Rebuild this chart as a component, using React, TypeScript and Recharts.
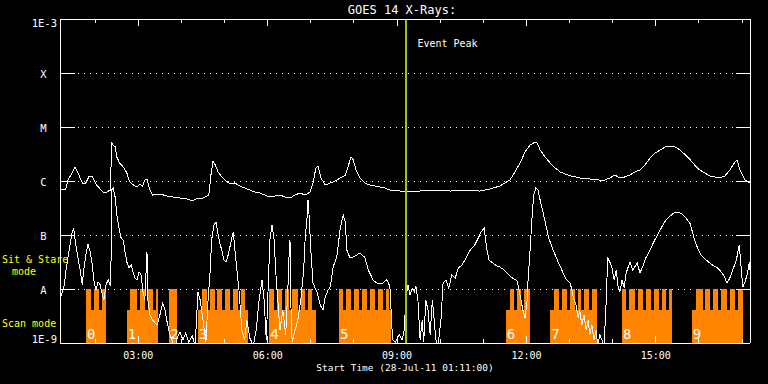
import {
  Area,
  CartesianGrid,
  ComposedChart,
  Line,
  ReferenceLine,
  Scatter,
  XAxis,
  YAxis,
} from 'recharts';

const FONT = '"DejaVu Sans Mono", monospace';
const WHITE = '#ffffff';
const ORANGE = '#ff8400';
const GREEN = '#9ec800';
const YELLOW = '#ffff00';

// time axis: minutes after the start time 28-Jul-11 01:11:00
const START_MIN = 71;
const SPAN_MIN = 960;
const hourTicks = [49, 109, 169, 229, 289, 349, 409, 469, 529, 589, 649, 709, 769, 829, 889, 949];

const fluxTicks = [1e-9, 1e-8, 1e-7, 1e-6, 1e-5, 1e-4, 1e-3];
const fluxTickLabels = ['1E-9', 'A', 'B', 'C', 'M', 'X', '1E-3'];

// GOES 14 long channel (1-8 A), W/m^2
const longTimes = [
  0, 1, 8, 11, 17, 21, 25, 31, 35, 38,
  40, 45, 51, 56, 60, 65, 70, 72, 74, 77,
  79, 83, 88, 93, 97, 102, 107, 111, 115, 118,
  121, 125, 129, 139, 149, 157, 167, 177, 185, 191,
  195, 202, 207, 210, 213, 216, 220, 225, 231, 237,
  243, 250, 257, 264, 271, 278, 285, 292, 299, 306,
  313, 320, 327, 334, 341, 348, 352, 356, 359, 363,
  369, 376, 383, 390, 397, 401, 405, 408, 412, 417,
  424, 431, 438, 445, 452, 459, 466, 473, 480, 487,
  501, 515, 529, 543, 557, 570, 584, 598, 612, 619,
  626, 633, 640, 647, 654, 661, 664, 668, 675, 682,
  689, 696, 703, 710, 717, 723, 737, 751, 758, 765,
  772, 779, 786, 793, 800, 807, 814, 821, 828, 835,
  842, 849, 856, 863, 870, 877, 883, 890, 897, 904,
  911, 918, 925, 932, 939, 942, 946, 953, 957, 960,
];
const longFlux = [
  9.6e-7, 7.1e-7, 7.1e-7, 1.04e-6, 1.41e-6, 1.82e-6, 1.41e-6, 9.2e-7, 8.8e-7, 1.04e-6,
  1.19e-6, 1.19e-6, 8.45e-7, 7.1e-7, 6.25e-7, 6.25e-7, 6.8e-7, 5.05e-6, 4.64e-6, 4.27e-6,
  2.78e-6, 2.15e-6, 1.82e-6, 1.41e-6, 9.6e-7, 8.45e-7, 7.76e-7, 8.8e-7, 8.08e-7, 1.04e-6,
  1.09e-6, 6.8e-7, 5.5e-7, 5.74e-7, 5.27e-7, 5.05e-7, 4.84e-7, 4.64e-7, 4.27e-7, 4.84e-7,
  4.64e-7, 5.05e-7, 5.5e-7, 1.29e-6, 2.35e-6, 1.98e-6, 1.47e-6, 1.19e-6, 1.0e-6, 8.8e-7,
  9.2e-7, 8.08e-7, 7.41e-7, 6.8e-7, 6.25e-7, 5.99e-7, 5.5e-7, 5.05e-7, 5.27e-7, 5.5e-7,
  5.05e-7, 4.84e-7, 5.5e-7, 5.99e-7, 5.5e-7, 6.25e-7, 9.2e-7, 1.74e-6, 1.9e-6, 1.14e-6,
  8.45e-7, 9.2e-7, 1.0e-6, 1.14e-6, 1.29e-6, 1.9e-6, 2.78e-6, 2.45e-6, 1.6e-6, 1.14e-6,
  9.2e-7, 8.45e-7, 8.08e-7, 7.76e-7, 7.41e-7, 6.8e-7, 6.8e-7, 6.52e-7, 6.25e-7, 6.52e-7,
  6.52e-7, 6.8e-7, 6.8e-7, 6.52e-7, 6.8e-7, 6.8e-7, 6.52e-7, 7.1e-7, 8.08e-7, 9.2e-7,
  1.04e-6, 1.47e-6, 2.15e-6, 3.44e-6, 4.64e-6, 5.27e-6, 5.05e-6, 3.75e-6, 2.78e-6, 2.15e-6,
  1.74e-6, 1.47e-6, 1.35e-6, 1.24e-6, 1.19e-6, 1.14e-6, 1.09e-6, 1.04e-6, 1.04e-6, 1.14e-6,
  1.29e-6, 1.14e-6, 1.19e-6, 1.29e-6, 1.47e-6, 1.6e-6, 1.98e-6, 2.66e-6, 3.3e-6, 3.75e-6,
  4.27e-6, 4.45e-6, 4.27e-6, 3.75e-6, 3.03e-6, 2.45e-6, 1.98e-6, 1.6e-6, 1.41e-6, 1.24e-6,
  1.19e-6, 1.14e-6, 1.24e-6, 1.6e-6, 2.25e-6, 2.45e-6, 1.6e-6, 1.04e-6, 9.6e-7, 9.2e-7,
];

// GOES 14 short channel (0.5-4 A), W/m^2
const shortTimes = [
  0, 3, 6, 8, 11, 14, 17, 19, 22, 25,
  28, 31, 33, 36, 39, 42, 45, 47, 50, 53,
  56, 58, 61, 64, 67, 70, 71, 72, 74, 77,
  79, 82, 85, 88, 90, 93, 96, 99, 102, 104,
  107, 110, 113, 115, 118, 121, 122, 125, 129, 135,
  139, 143, 146, 149, 153, 157, 160, 163, 167, 171,
  175, 179, 184, 188, 192, 195, 199, 203, 206, 209,
  211, 214, 217, 220, 223, 225, 228, 231, 234, 237,
  241, 245, 249, 253, 257, 260, 264, 269, 273, 277,
  281, 284, 287, 289, 292, 295, 298, 300, 303, 306,
  310, 314, 317, 319, 320, 321, 323, 327, 331, 335,
  339, 341, 344, 345, 346, 349, 352, 358, 362, 366,
  369, 373, 376, 380, 385, 390, 394, 397, 399, 403,
  408, 413, 417, 422, 424, 429, 433, 435, 441, 445,
  449, 454, 456, 459, 462, 463, 467, 472, 476, 479,
  481, 484, 487, 490, 493, 495, 498, 501, 504, 506,
  509, 512, 515, 518, 520, 523, 526, 530, 533, 537,
  541, 545, 550, 554, 558, 561, 565, 569, 573, 577,
  582, 586, 590, 594, 597, 602, 608, 612, 618, 622,
  627, 632, 636, 640, 644, 647, 650, 651, 654, 657,
  659, 662, 665, 668, 672, 676, 680, 685, 689, 693,
  697, 701, 705, 710, 714, 718, 721, 723, 726, 729,
  732, 735, 737, 740, 743, 746, 748, 751, 754, 757,
  760, 762, 765, 768, 771, 774, 776, 779, 782, 785,
  787, 790, 793, 797, 803, 807, 811, 815, 821, 826,
  832, 838, 843, 849, 854, 860, 865, 871, 877, 882,
  888, 893, 899, 904, 910, 915, 920, 924, 928, 932,
  936, 941, 945, 948, 950, 953, 956, 959, 960,
];
const shortFlux = [
  6.25e-9, 8.8e-9, 1.19e-8, 2.06e-8, 3.75e-8, 6.52e-8, 1.14e-7, 1.35e-7, 6.52e-8, 3.75e-8,
  2.25e-8, 1.19e-8, 2.25e-8, 4.27e-8, 6.81e-8, 4.84e-8, 2.78e-8, 1.47e-8, 9.58e-9, 1.35e-8,
  1.19e-8, 8.8e-9, 6.25e-9, 1.19e-8, 1.47e-8, 1.14e-8, 3.44e-8, 6.81e-7, 7.41e-7, 4.84e-7,
  2.35e-7, 1.35e-7, 8.82e-8, 8.08e-8, 5.27e-8, 3.16e-8, 2.45e-8, 2.78e-8, 1.98e-8, 1.6e-8,
  1.47e-8, 2.06e-8, 1.82e-8, 9.58e-9, 6.25e-9, 4.84e-8, 6.81e-9, 3.3e-9, 2.66e-9, 2.15e-9,
  3.3e-9, 5.5e-9, 4.08e-9, 2.45e-9, 1.41e-9, 1.04e-9, 7.5e-10, 1.24e-9, 1.6e-9, 1.14e-9,
  1.53e-9, 1.04e-9, 1.35e-9, 9e-10, 8.8e-9, 6.25e-9, 2.66e-9, 1.04e-9, 6.25e-9, 2.25e-8,
  8.08e-8, 1.53e-7, 1.74e-7, 1e-7, 6.52e-8, 5.27e-8, 3.44e-8, 3.16e-8, 4.27e-8, 6.52e-8,
  1.14e-7, 3.16e-8, 9.58e-9, 1.74e-9, 1.14e-9, 2.66e-9, 1.24e-9, 9e-10, 1.74e-9, 6.25e-9,
  1.47e-8, 6.25e-9, 1.14e-9, 6.25e-9, 8.08e-8, 1.53e-7, 8.08e-8, 2.25e-8, 6.25e-9, 1.74e-9,
  4.08e-9, 1.41e-9, 9.58e-9, 5.27e-8, 8.08e-8, 6.25e-9, 1.04e-9, 1.74e-9, 2.66e-9, 6.25e-9,
  2.25e-8, 8.08e-8, 2.35e-7, 4.45e-7, 3.16e-7, 5.27e-8, 1.29e-8, 8.45e-9, 5.05e-9, 4.08e-9,
  7.1e-9, 9.58e-9, 1.09e-8, 2.55e-8, 3.91e-8, 1.35e-7, 2.35e-7, 1.74e-7, 5.27e-8, 3.91e-8,
  3.91e-8, 4.27e-8, 4.64e-8, 4.08e-8, 3.91e-8, 2.25e-8, 1.74e-8, 1.47e-8, 1.29e-8, 1.24e-8,
  1.29e-8, 1.47e-8, 1.41e-8, 1.09e-8, 1.74e-9, 1.14e-9, 1.04e-9, 1.41e-9, 1.14e-9, 1.74e-9,
  6.25e-9, 1.19e-8, 7.76e-9, 1.04e-8, 8.82e-9, 1.14e-8, 6.25e-9, 1.14e-9, 2.66e-9, 1.04e-9,
  6.25e-9, 4.08e-9, 1.41e-9, 6.25e-9, 3.3e-9, 1.14e-9, 9e-10, 2.66e-9, 1.29e-8, 1.47e-8,
  1.04e-8, 1.82e-8, 1.6e-8, 2.45e-8, 2.66e-8, 3.03e-8, 3.75e-8, 4.84e-8, 5.74e-8, 6.52e-8,
  8.82e-8, 1.14e-7, 1.35e-7, 5.27e-8, 3.44e-8, 3.03e-8, 2.66e-8, 2.55e-8, 2.25e-8, 1.98e-8,
  1.67e-8, 1.53e-8, 1.41e-8, 7.76e-9, 4.08e-9, 2.9e-9, 6.25e-9, 1.29e-8, 5.27e-8, 2.35e-7,
  5.5e-7, 7.41e-7, 6.81e-7, 4.45e-7, 2.66e-7, 1.53e-7, 8.82e-8, 5.74e-8, 4.27e-8, 3.16e-8,
  2.45e-8, 1.82e-8, 1.47e-8, 1.29e-8, 7.1e-9, 5.05e-9, 2.9e-9, 4.08e-9, 2.15e-9, 3.3e-9,
  1.74e-9, 2.66e-9, 1.41e-9, 2.15e-9, 1.14e-9, 1.74e-9, 9e-10, 1.41e-9, 1.14e-9, 9e-10,
  6.25e-9, 3.75e-8, 3.16e-8, 2.45e-8, 1.47e-8, 2.25e-8, 1.19e-8, 8.82e-9, 1.47e-8, 1.04e-8,
  1.82e-8, 2.45e-8, 3.16e-8, 2.25e-8, 3.03e-8, 1.98e-8, 2.66e-8, 3.75e-8, 5.27e-8, 7.41e-8,
  1.04e-7, 1.47e-7, 1.9e-7, 2.25e-7, 2.55e-7, 2.66e-7, 2.45e-7, 2.06e-7, 1.6e-7, 8.82e-8,
  5.27e-8, 4.08e-8, 3.44e-8, 3.03e-8, 2.66e-8, 2.45e-8, 2.06e-8, 1.74e-8, 1.29e-8, 1.6e-8,
  2.25e-8, 3.44e-8, 6.52e-8, 2.25e-8, 1.09e-8, 1.35e-8, 1.82e-8, 3.16e-8, 2.25e-8,
];

// instrument mode bar: scan blocks, sit & stare spans and the gaps between stares
const scanBlocks = [
  [36, 64], [93, 136], [152, 163], [192, 262], [291, 356],
  [388, 460], [620, 654], [682, 747], [782, 851], [879, 950],
];
const stareBlocks = [
  [36, 64], [97, 136], [152, 163], [198, 257], [291, 351],
  [388, 458], [626, 654], [687, 747], [782, 851], [885, 950],
];
const stareGaps = [
  43, 54, 107, 118, 129, 204, 215, 226, 237, 248,
  298, 309, 319, 331, 341, 394, 405, 416, 427, 438, 449,
  632, 641, 694, 705, 716, 725, 736,
  788, 800, 811, 822, 833, 843, 894, 905, 916, 928, 939,
];
const GAP_MIN = 4;
const blockNames = ['0', '1', '2', '3', '4', '5', '6', '7', '8', '9'];

const FLOOR = 1e-9;
const SCAN_TOP = 4.1e-9;
const STARE_TOP = 1e-8;

const eventPeak = 482; // 09:13

const longData = longTimes.map((t, i) => ({ t, v: longFlux[i] }));
const shortData = shortTimes.map((t, i) => ({ t, v: shortFlux[i] }));

const inside = (t: number, [a, b]: number[]) => t >= a && t < b;
const modeEdges = Array.from(
  new Set([
    0,
    SPAN_MIN,
    ...scanBlocks.flat(),
    ...stareBlocks.flat(),
    ...stareGaps,
    ...stareGaps.map((g) => g + GAP_MIN),
  ])
).sort((a, b) => a - b);
const modeData = modeEdges.map((t) => {
  const gap = stareGaps.some((g) => inside(t, [g, g + GAP_MIN]));
  const stare = !gap && stareBlocks.some((b) => inside(t, b));
  const scan = scanBlocks.some((b) => inside(t, b));
  return { t, v: stare ? STARE_TOP : scan ? SCAN_TOP : FLOOR };
});
const blockLabels = scanBlocks.map(([a], i) => ({ t: a, v: FLOOR, name: blockNames[i] }));

const clock = (t: number) => {
  const m = START_MIN + t;
  return `${String(Math.floor(m / 60)).padStart(2, '0')}:${String(m % 60).padStart(2, '0')}`;
};
const isMajor = (t: number) => ((START_MIN + t) / 60) % 3 === 0;

const LeftTick = (props: any) => {
  const { x, y, index } = props;
  const last = fluxTickLabels.length - 1;
  const edge = index === 0 || index === last;
  const ty = index === 0 ? y : index === last ? y + 8 : y + 4.5;
  return (
    <g>
      <line x1={x} y1={y} x2={x + 15} y2={y} stroke={WHITE} />
      <text
        x={edge ? x - 3 : x - 16.5}
        y={ty}
        textAnchor={edge ? 'end' : 'middle'}
        fill={WHITE}
        fontSize={10.5}
        fontFamily={FONT}
      >
        {fluxTickLabels[index]}
      </text>
    </g>
  );
};

const RightTick = (props: any) => (
  <line x1={props.x} y1={props.y} x2={props.x - 14} y2={props.y} stroke={WHITE} />
);

const BottomTick = (props: any) => {
  const { x, y, payload } = props;
  const major = isMajor(payload.value);
  return (
    <g>
      <line x1={x} y1={y} x2={x} y2={y - (major ? 7 : 4)} stroke={WHITE} />
      {major && (
        <text x={x} y={y + 16} textAnchor='middle' fill={WHITE} fontSize={10} fontFamily={FONT}>
          {clock(payload.value)}
        </text>
      )}
    </g>
  );
};

const TopTick = (props: any) => {
  const { x, y, payload } = props;
  return <line x1={x} y1={y} x2={x} y2={y + (isMajor(payload.value) ? 7 : 4)} stroke={WHITE} />;
};

const titleLabel = (props: any) => {
  const { x, width } = props.viewBox;
  return (
    <text x={x + width / 2 - 3} y={14} textAnchor='middle' fill={WHITE} fontSize={12} fontFamily={FONT}>
      GOES 14 X-Rays:
    </text>
  );
};

const startLabel = (props: any) => {
  const { x, y, width } = props.viewBox;
  return (
    <text x={x + width / 2} y={y + 28} textAnchor='middle' fill={WHITE} fontSize={9.5} fontFamily={FONT}>
      Start Time (28-Jul-11 01:11:00)
    </text>
  );
};

const modeLabel = (props: any) => {
  const { x, y, height } = props.viewBox;
  const bottom = y + height;
  return (
    <g fill={YELLOW} fontSize={10} fontFamily={FONT}>
      <text x={x + 2} y={bottom - 80}>Sit &amp; Stare</text>
      <text x={x + 12} y={bottom - 68}>mode</text>
      <text x={x + 2} y={bottom - 16}>Scan mode</text>
    </g>
  );
};

const peakLabel = (props: any) => {
  const { x, y } = props.viewBox;
  return (
    <text x={x + 11} y={y + 28} fill={WHITE} fontSize={10} fontFamily={FONT}>
      Event Peak
    </text>
  );
};

export default function App() {
  return (
    <div
      style={{
        position: 'absolute',
        left: 0,
        top: 0,
        width: 768,
        height: 384,
        background: '#000',
        shapeRendering: 'crispEdges',
      }}
    >
      <ComposedChart width={768} height={384} margin={{ top: 0, right: 0, bottom: 0, left: 0 }}>
        <CartesianGrid xAxisId='b' yAxisId='l' vertical={false} stroke={WHITE} strokeDasharray='1 5' />
        <Area
          xAxisId='b'
          yAxisId='l'
          data={modeData}
          dataKey='v'
          type='stepAfter'
          stroke='none'
          fill={ORANGE}
          fillOpacity={1}
          baseValue={FLOOR}
          isAnimationActive={false}
        />
        <Line
          xAxisId='b'
          yAxisId='l'
          data={shortData}
          dataKey='v'
          stroke={WHITE}
          strokeWidth={1}
          dot={false}
          activeDot={false}
          isAnimationActive={false}
        />
        <Line
          xAxisId='b'
          yAxisId='l'
          data={longData}
          dataKey='v'
          stroke={WHITE}
          strokeWidth={1}
          dot={false}
          activeDot={false}
          isAnimationActive={false}
        />
        <Scatter
          xAxisId='b'
          yAxisId='l'
          data={blockLabels}
          dataKey='v'
          isAnimationActive={false}
          shape={(p: any) => (
            <text x={p.cx + 1} y={p.cy - 4} fill={WHITE} fontSize={14} fontFamily={FONT}>
              {p.payload.name}
            </text>
          )}
        />
        <ReferenceLine
          xAxisId='b'
          yAxisId='l'
          x={eventPeak}
          stroke={GREEN}
          strokeWidth={2}
          label={peakLabel}
        />
        <XAxis
          xAxisId='b'
          dataKey='t'
          type='number'
          domain={[0, SPAN_MIN]}
          ticks={hourTicks}
          interval={0}
          allowDataOverflow
          height={41}
          tickSize={0}
          tickMargin={0}
          tickLine={false}
          axisLine={{ stroke: WHITE }}
          tick={(p: any) => <BottomTick {...p} />}
          label={startLabel}
        />
        <XAxis
          xAxisId='t'
          orientation='top'
          dataKey='t'
          type='number'
          domain={[0, SPAN_MIN]}
          ticks={hourTicks}
          interval={0}
          allowDataOverflow
          height={19}
          tickSize={0}
          tickMargin={0}
          tickLine={false}
          axisLine={{ stroke: WHITE }}
          tick={(p: any) => <TopTick {...p} />}
          label={titleLabel}
        />
        <YAxis
          yAxisId='l'
          type='number'
          scale='log'
          domain={[1e-9, 1e-3]}
          ticks={fluxTicks}
          interval={0}
          allowDataOverflow
          width={60}
          tickSize={0}
          tickMargin={0}
          tickLine={false}
          axisLine={{ stroke: WHITE }}
          tick={(p: any) => <LeftTick {...p} />}
          label={modeLabel}
        />
        <YAxis
          yAxisId='r'
          orientation='right'
          type='number'
          scale='log'
          domain={[1e-9, 1e-3]}
          ticks={fluxTicks}
          interval={0}
          allowDataOverflow
          width={18}
          tickSize={0}
          tickMargin={0}
          tickLine={false}
          axisLine={{ stroke: WHITE }}
          tick={(p: any) => <RightTick {...p} />}
        />
      </ComposedChart>
    </div>
  );
}
